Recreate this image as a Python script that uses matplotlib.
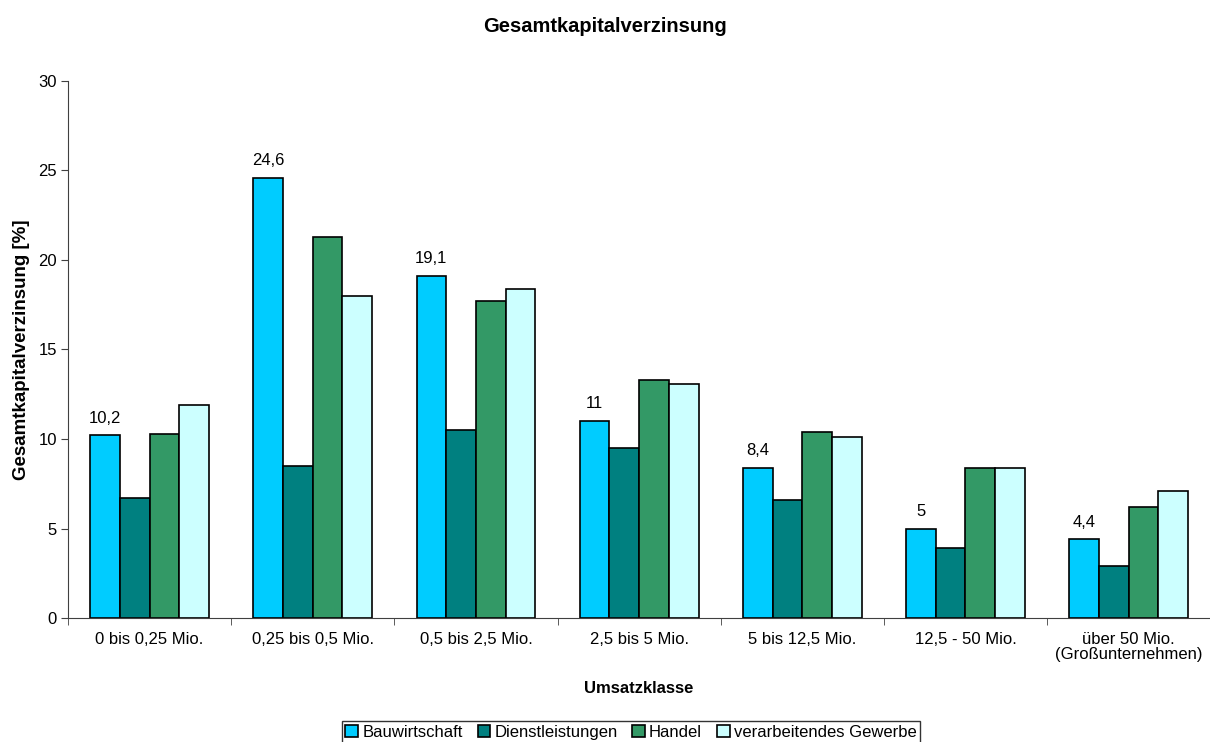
import matplotlib.pyplot as plt
import numpy as np

plt.rcParams['font.family'] = ['Liberation Sans', 'DejaVu Sans']

# Daten
klassen = ["0 bis 0,25 Mio.", "0,25 bis 0,5 Mio.", "0,5 bis 2,5 Mio.", "2,5 bis 5 Mio.",
           "5 bis 12,5 Mio.", "12,5 - 50 Mio.", "über 50 Mio.\n(Großunternehmen)"]
bau = [10.2, 24.6, 19.1, 11, 8.4, 5, 4.4]
dienst = [6.7, 8.5, 10.5, 9.5, 6.6, 3.9, 2.9]
handel = [10.3, 21.3, 17.7, 13.3, 10.4, 8.4, 6.2]
verarb = [11.9, 18.0, 18.4, 13.1, 10.1, 8.4, 7.1]
namen = ["Bauwirtschaft", "Dienstleistungen", "Handel", "verarbeitendes Gewerbe"]
farben = ["#00CCFF", "#008080", "#339966", "#CCFFFF"]

fig = plt.figure(figsize=(12.1, 7.42), dpi=100)
ax = fig.add_axes([0.0562, 0.167, 0.944, 0.724])

x = np.arange(len(klassen))
w = 0.182
serien = [bau, dienst, handel, verarb]
for i, (werte, name, farbe) in enumerate(zip(serien, namen, farben)):
    pos = x + (i - 1.5) * w
    ax.bar(pos, werte, w, color=farbe, edgecolor="black", linewidth=1.2, label=name)
    if i == 0:
        # nur Bauwirtschaft beschriftet
        for p, v in zip(pos, werte):
            txt = f"{v:g}".replace(".", ",")
            ax.annotate(txt, (p, v), xytext=(0, 7), textcoords="offset points",
                        ha="center", va="bottom", fontsize=12)

ax.set_xlim(-0.5, len(klassen) - 0.5)
ax.set_ylim(0, 30)
ax.set_yticks(range(0, 31, 5))
ax.set_xticks(x)
ax.set_xticklabels(klassen, fontsize=12, linespacing=1.0)
ax.set_xticks(np.arange(-0.5, len(klassen)), minor=True)
ax.tick_params(axis="x", which="major", length=0, pad=10)
ax.tick_params(axis="x", which="minor", length=5, color="#404040")
ax.tick_params(axis="y", length=5, color="#404040", labelsize=12, pad=3)
for s in ["top", "right"]:
    ax.spines[s].set_visible(False)
for s in ["left", "bottom"]:
    ax.spines[s].set_color("#404040")

ax.set_ylabel("Gesamtkapitalverzinsung [%]", fontsize=13.5, fontweight="bold", labelpad=6)
ax.set_xlabel("Umsatzklasse", fontsize=12, fontweight="bold", labelpad=14)
fig.suptitle("Gesamtkapitalverzinsung", y=0.977, fontsize=14.5, fontweight="bold")

leg = fig.legend(loc="upper center", bbox_to_anchor=(0.5215, 0.028), ncol=4, frameon=True,
                 fontsize=12, handlelength=0.75, handleheight=0.75, handletextpad=0.25,
                 columnspacing=0.9, borderpad=0.2, borderaxespad=0, fancybox=False)
leg.get_frame().set_edgecolor("black")
leg.get_frame().set_linewidth(1)

fig.savefig("out.png", dpi=100)
